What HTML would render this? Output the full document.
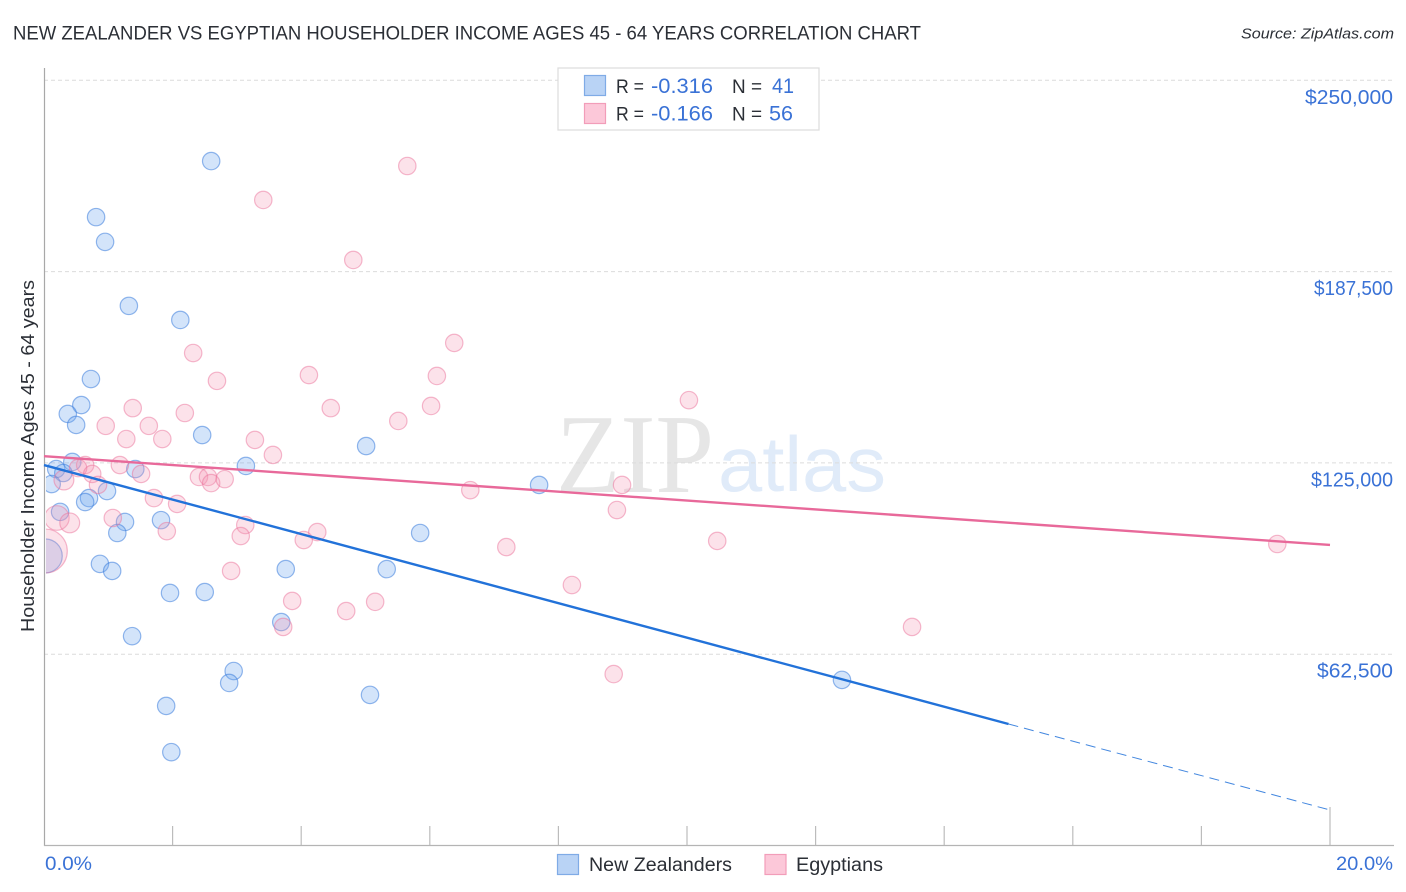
<!DOCTYPE html>
<html lang="en">
<head>
<meta charset="utf-8">
<title>New Zealander vs Egyptian Householder Income Chart</title>
<style>
html,body{margin:0;padding:0;background:#fff;width:1406px;height:892px;overflow:hidden}
svg{display:block;font-family:"Liberation Sans",sans-serif}
</style>
</head>
<body>
<svg id="chart" width="1406" height="892" viewBox="0 0 1406 892" xmlns="http://www.w3.org/2000/svg">
  <defs><clipPath id="plot-clip"><rect x="46" y="60" width="1350" height="786"/></clipPath></defs>
  <text x="13" y="39.5" font-size="19" fill="#2b2f36" textLength="908" lengthAdjust="spacingAndGlyphs">NEW ZEALANDER VS EGYPTIAN HOUSEHOLDER INCOME AGES 45 - 64 YEARS CORRELATION CHART</text>
  <text x="1241" y="38.5" font-size="15" font-style="italic" fill="#2b2f36" textLength="153" lengthAdjust="spacingAndGlyphs">Source: ZipAtlas.com</text>
  <g>
    <text x="556" y="492" font-size="112" font-family="'Liberation Serif',serif" fill="#e6e6e6" textLength="158" lengthAdjust="spacingAndGlyphs">ZIP</text>
    <text x="718" y="491" font-size="78" fill="#e0ebf9" textLength="168" lengthAdjust="spacingAndGlyphs">atlas</text>
  </g>
  <g id="grid"></g>
  <g id="axes">
    <line x1="44.5" y1="68" x2="44.5" y2="846" stroke="#a8a8a8" stroke-width="1.2"/>
    <line x1="44" y1="845.5" x2="1394" y2="845.5" stroke="#b4b4b4" stroke-width="1.2"/>
  </g>
  <g id="xticks"></g>
  <g id="points" clip-path="url(#plot-clip)"></g>
  <g id="trends"></g>
  <g id="ylabels"></g>
  <g id="xlabels"></g>
  <text transform="translate(34,632) rotate(-90)" x="0" y="0" font-size="18.5" fill="#2b2f36" textLength="352" lengthAdjust="spacingAndGlyphs">Householder Income Ages 45 - 64 years</text>

  <g>
    <rect x="558" y="68" width="261" height="62" fill="#fff" stroke="#dcdcdc" stroke-width="1.2"/>
    <rect x="584.5" y="75.5" width="21" height="20" fill="#b9d3f5" stroke="#7fabe6" stroke-width="1.2"/>
    <rect x="584.5" y="103.5" width="21" height="20" fill="#fcc8d9" stroke="#f29db9" stroke-width="1.2"/>
    <text x="616" y="93" font-size="19.5" fill="#2b2f36" textLength="28" lengthAdjust="spacingAndGlyphs">R =</text>
    <text x="651" y="93" font-size="21" fill="#3a72d6" textLength="62" lengthAdjust="spacingAndGlyphs">-0.316</text>
    <text x="732" y="93" font-size="19.5" fill="#2b2f36" textLength="30" lengthAdjust="spacingAndGlyphs">N =</text>
    <text x="772" y="93" font-size="21" fill="#3a72d6" textLength="22" lengthAdjust="spacingAndGlyphs">41</text>
    <text x="616" y="120.5" font-size="19.5" fill="#2b2f36" textLength="28" lengthAdjust="spacingAndGlyphs">R =</text>
    <text x="651" y="120.5" font-size="21" fill="#3a72d6" textLength="62" lengthAdjust="spacingAndGlyphs">-0.166</text>
    <text x="732" y="120.5" font-size="19.5" fill="#2b2f36" textLength="30" lengthAdjust="spacingAndGlyphs">N =</text>
    <text x="769" y="120.5" font-size="21" fill="#3a72d6" textLength="24" lengthAdjust="spacingAndGlyphs">56</text>
  </g>

  <g>
    <g>
      <rect x="557.5" y="854.5" width="21" height="20" fill="#b9d3f5" stroke="#7fabe6" stroke-width="1.2"/>
      <text x="589" y="871" font-size="19" fill="#2b2f36" textLength="143" lengthAdjust="spacingAndGlyphs">New Zealanders</text>
    </g>
    <g>
      <rect x="765" y="854.5" width="21" height="20" fill="#fcc8d9" stroke="#f29db9" stroke-width="1.2"/>
      <text x="796" y="871" font-size="19" fill="#2b2f36" textLength="87" lengthAdjust="spacingAndGlyphs">Egyptians</text>
    </g>
  </g>
</svg>
<script>
const yTickValues = [250000, 187500, 125000, 62500];
const yTickLabels = ['$250,000', '$187,500', '$125,000', '$62,500'];
const xTickValues = [0, 2, 4, 6, 8, 10, 12, 14, 16, 18, 20];
const xEdgeLabels = ['0.0%', '20.0%'];

const blueX = [2.60,0.81,0.95,1.32,2.12,0.73,0.58,0.37,0.50,2.46,5.01,0.44,3.14,1.42,0.19,0.30,0.12,0.98,0.70,0.64,0.25,1.82,1.26,1.14,5.85,7.70,0.87,1.06,3.76,5.33,1.96,2.50,1.37,3.69,2.95,2.88,5.07,1.90,1.98,12.41,0.02];
const blueIncome = [223600,205300,197200,176300,171700,152400,143900,141000,137400,134100,130500,125300,124000,123000,123000,121700,118100,115800,113500,112200,109000,106300,105700,102100,102100,117800,92000,89700,90300,90300,82500,82800,68400,73000,57000,53100,49200,45600,30500,54100,94600];
const blueWeight = [1,1,1,1,1,1,1,1,1,1,1,1,1,1,1,1,1,1,1,1,1,1,1,1,1,1,1,1,1,1,1,1,1,1,1,1,1,1,1,1,3.8];

const pinkX = [5.65,3.41,4.81,6.38,2.32,2.69,4.12,6.11,10.03,1.38,4.46,6.02,2.19,5.51,0.96,1.63,1.28,1.84,3.28,3.56,0.64,0.53,0.75,0.31,0.84,1.18,1.51,2.41,2.55,2.60,2.81,6.63,8.99,1.71,2.07,8.91,1.07,3.13,0.20,0.40,1.91,3.06,4.25,4.04,10.47,7.19,19.18,2.91,8.21,0.02,3.86,5.15,4.70,3.72,13.50,8.86];
const pinkIncome = [222000,210900,191300,164200,160900,151800,153700,153400,145500,142900,142900,143600,141300,138700,137100,137100,132800,132800,132500,127600,124300,123300,121400,119400,117800,124300,121400,120400,120400,118400,119700,116100,117800,113500,111600,109600,107000,104700,107000,105400,102700,101100,102400,99800,99500,97500,98500,89700,85100,96200,79900,79600,76600,71400,71400,56000];
const pinkWeight = [1,1,1,1,1,1,1,1,1,1,1,1,1,1,1,1,1,1,1,1,1,1,1,1.3,1,1,1,1,1,1,1,1,1,1,1,1,1,1,2,1.3,1,1,1,1,1,1,1,1,1,6.4,1,1,1,1,1,1];

const blueTrendPct = [0, 15, 20];
const blueTrendIncome = [124300, 39700, 11600];
const pinkTrendPct = [0, 20];
const pinkTrendIncome = [127200, 98200];

const NS = 'http://www.w3.org/2000/svg';
function xScale(pct) { return 44 + pct * 64.3; }
function yScale(income) { return 845.5 - income * 191.3 / 62500; }
function make(tag, attrs, parentId) {
  const el = document.createElementNS(NS, tag);
  for (const k in attrs) el.setAttribute(k, attrs[k]);
  document.getElementById(parentId).appendChild(el);
  return el;
}
/* The reference face has narrow 1s and 7s, so tick label widths are estimated per glyph. */
function labelWidth(s) {
  let w = 0;
  for (const ch of s) {
    w += ch === '1' ? 6 : ch === '7' ? 9 : ch === ',' ? 5 : ch === '$' ? 11 : 12;
  }
  return w;
}

yTickValues.forEach(function (v, i) {
  const g = make('line', {x1: 44, x2: 1394, y1: yScale(v), y2: yScale(v), stroke: '#dcdcdc', 'stroke-width': 1, 'stroke-dasharray': '4 3'}, 'grid');
  
  
  const w = labelWidth(yTickLabels[i]);
  const t = make('text', {x: 1393 - w, y: yScale(v) + 23.5, 'font-size': 20, fill: '#3a72d6', textLength: w, lengthAdjust: 'spacingAndGlyphs'}, 'ylabels');
  t.textContent = yTickLabels[i];
  
  
});

xTickValues.slice(1).forEach(function (v) {
  const x = xScale(v);
  const top = v === 20 ? 807 : 826;
  const tick = make('line', {x1: x, x2: x, y1: top, y2: 845, stroke: '#bcbcbc', 'stroke-width': 1.2}, 'xticks');
  
  
});

const xl0 = make('text', {x: 45, y: 870, 'font-size': 19, fill: '#3a72d6', textLength: 47, lengthAdjust: 'spacingAndGlyphs'}, 'xlabels');
xl0.textContent = xEdgeLabels[0];


const xl1 = make('text', {x: 1336, y: 870, 'font-size': 19, fill: '#3a72d6', textLength: 57, lengthAdjust: 'spacingAndGlyphs'}, 'xlabels');
xl1.textContent = xEdgeLabels[1];



blueX.forEach(function (x, i) {
  const c = make('circle', {cx: xScale(x), cy: yScale(blueIncome[i]), r: 8.7 * Math.sqrt(blueWeight[i]), fill: 'rgba(110,165,240,0.3)', stroke: 'rgba(60,125,220,0.55)', 'stroke-width': 1.2}, 'points');
  
  
});
pinkX.forEach(function (x, i) {
  const c = make('circle', {cx: xScale(x), cy: yScale(pinkIncome[i]), r: 8.7 * Math.sqrt(pinkWeight[i]), fill: 'rgba(246,150,180,0.28)', stroke: 'rgba(235,115,155,0.5)', 'stroke-width': 1.2}, 'points');
  
  
});

const blueSolid = make('line', {x1: xScale(blueTrendPct[0]), y1: yScale(blueTrendIncome[0]), x2: xScale(blueTrendPct[1]), y2: yScale(blueTrendIncome[1]), stroke: '#2272d9', 'stroke-width': 2.4}, 'trends');


const blueDash = make('line', {x1: xScale(blueTrendPct[1]), y1: yScale(blueTrendIncome[1]), x2: xScale(blueTrendPct[2]), y2: yScale(blueTrendIncome[2]), stroke: '#2272d9', 'stroke-width': 1, 'stroke-dasharray': '10 6', 'stroke-opacity': 0.85}, 'trends');


const pinkLine = make('line', {x1: xScale(pinkTrendPct[0]), y1: yScale(pinkTrendIncome[0]), x2: xScale(pinkTrendPct[1]), y2: yScale(pinkTrendIncome[1]), stroke: '#e8699a', 'stroke-width': 2.4}, 'trends');


</script>
</body>
</html>
